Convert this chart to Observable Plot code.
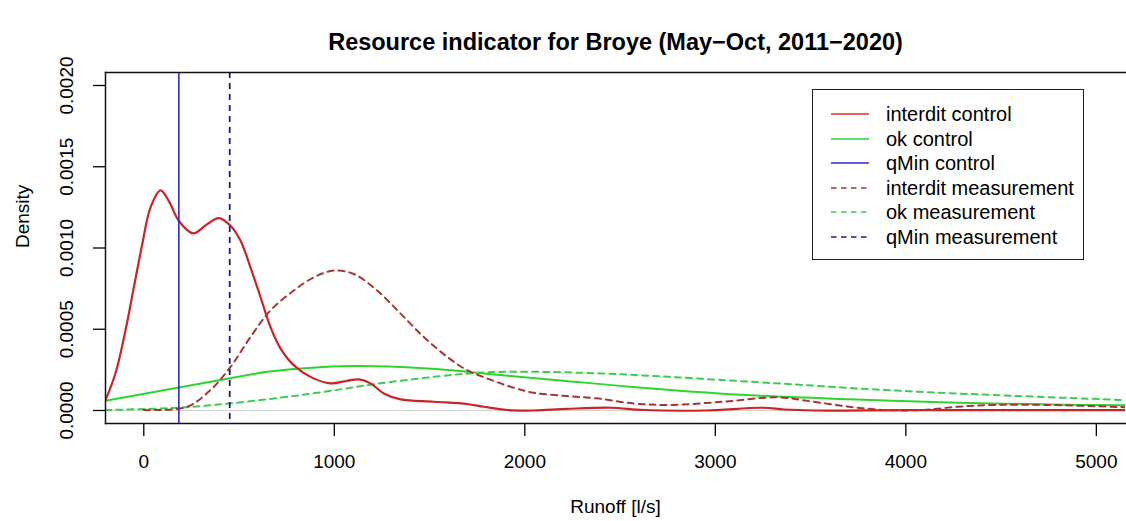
<!DOCTYPE html>
<html>
<head>
<meta charset="utf-8">
<script src="https://cdn.jsdelivr.net/npm/d3@7"></script>
<script src="https://cdn.jsdelivr.net/npm/@observablehq/plot@0.6"></script>
<style>
  html, body { margin: 0; padding: 0; background: #fff; }
  #wrap { position: relative; width: 1126px; height: 521px; overflow: hidden;
          font-family: "Liberation Sans", Arial, Helvetica, sans-serif; color: #000; }
  #legend { position: absolute; left: 812px; top: 89px; width: 272px; height: 171px;
            box-sizing: border-box; border: 1.5px solid #222; background: #fff; }
  .lrow { position: absolute; left: 0; height: 24px; width: 100%; }
  .lrow svg { position: absolute; left: 17px; top: 0; }
  .lrow span { position: absolute; left: 73px; top: 0; line-height: 24px; font-size: 20px; white-space: nowrap; }
</style>
</head>
<body>
<div id="wrap"></div>
<script>
// ---- data ----
const titleText = "Resource indicator for Broye (May\u2212Oct, 2011\u22122020)";
const xLabel = "Runoff [l/s]";
const yLabel = "Density";
const xTicks = [0, 1000, 2000, 3000, 4000, 5000];
const yTicks = [0, 0.0005, 0.001, 0.0015, 0.002];

const interditControlX = [-201, -149, -96, -52, -8, 35, 88, 131, 184, 259, 333, 394, 455, 508, 560, 613, 665, 718, 787, 875, 980, 1068, 1129, 1190, 1260, 1348, 1522, 1697, 1785, 1907, 2047, 2222, 2452, 2623, 2945, 3248, 3362, 3514, 4000, 4600, 5158];
const interditControlY = [0.000064, 0.000228, 0.000493, 0.000759, 0.001024, 0.001249, 0.001355, 0.00129, 0.001167, 0.00109, 0.001147, 0.001184, 0.001137, 0.001045, 0.000881, 0.000697, 0.000513, 0.000381, 0.000279, 0.000207, 0.000167, 0.000183, 0.000191, 0.000167, 0.000105, 0.0000686, 0.000054, 0.00004, 0.000023, 0.000003, 0.0, 0.00001, 0.000017, 0.000003, 0.0, 0.000017, 0.000006, 0.0, 0.000002, 0.000002, 0.000002];

const okControlX = [-201, 184, 446, 648, 823, 1033, 1348, 1610, 1872, 2187, 2565, 3135, 3703, 4272, 4838, 5158];
const okControlY = [0.00006, 0.000142, 0.000197, 0.000238, 0.000259, 0.000273, 0.000268, 0.000248, 0.000218, 0.000185, 0.000145, 0.000097, 0.000069, 0.000048, 0.000036, 0.000032];

const interditMeasX = [0, 70, 228, 350, 455, 560, 665, 787, 893, 997, 1102, 1225, 1348, 1470, 1593, 1697, 1803, 1925, 2047, 2222, 2377, 2565, 2754, 3040, 3324, 3514, 3703, 3893, 4083, 4272, 4462, 4745, 5158];
const interditMeasY = [0.000003, 0.000003, 0.000023, 0.000126, 0.000268, 0.000452, 0.000616, 0.000738, 0.00082, 0.000861, 0.00084, 0.000738, 0.000596, 0.000452, 0.00033, 0.000248, 0.000197, 0.000146, 0.000109, 0.000089, 0.000075, 0.000044, 0.000034, 0.000054, 0.000081, 0.000054, 0.000023, 0.000003, 0.000003, 0.000023, 0.000034, 0.000034, 0.00002];

const okMeasX = [-201, 184, 455, 823, 1033, 1173, 1522, 1785, 2047, 2397, 2754, 3324, 3893, 4462, 5158];
const okMeasY = [0.000003, 0.000017, 0.000044, 0.000095, 0.00013, 0.000156, 0.000207, 0.000234, 0.000238, 0.000228, 0.000207, 0.000167, 0.000126, 0.000095, 0.000064];

const qMinControl = [184];
const qMinMeasurement = [451];

const legendLabels = ["interdit control", "ok control", "qMin control", "interdit measurement", "ok measurement", "qMin measurement"];

// ---- styles ----
const colRed = "#cc2424", colBrown = "#a83434", colGreen = "#2ed42e", colGreen2 = "#3ccc50", colBlue = "#2a2ac8", colNavy = "#1c1c78";
const legendColors = ["#e02a2a", colGreen, colBlue, colBrown, colGreen2, colNavy];
const legendDashed = [false, false, false, true, true, true];
const dash = "6,5";

const toRows = (xs, ys) => xs.map((x, i) => ({x, y: ys[i]}));
const fmtY = d3.format(".4f");

const chart = Plot.plot({
  width: 1126, height: 521,
  marginLeft: 105, marginRight: 1, marginTop: 72, marginBottom: 98,
  style: {fontFamily: '"Liberation Sans", Arial, Helvetica, sans-serif', fontSize: "19px", color: "#000", background: "#fff", overflow: "visible"},
  x: {domain: [-201, 5153]},
  y: {domain: [-0.00008, 0.00208]},
  marks: [
    Plot.ruleY([0], {stroke: "#d0d0d0", strokeWidth: 1}),
    Plot.line(toRows(okMeasX, okMeasY), {x: "x", y: "y", stroke: colGreen2, strokeWidth: 2, strokeDasharray: dash, curve: "catmull-rom", clip: true}),
    Plot.line(toRows(okControlX, okControlY), {x: "x", y: "y", stroke: colGreen, strokeWidth: 2, curve: "catmull-rom", clip: true}),
    Plot.line(toRows(interditMeasX, interditMeasY), {x: "x", y: "y", stroke: colBrown, strokeWidth: 2, strokeDasharray: dash, curve: "catmull-rom", clip: true}),
    Plot.line(toRows(interditControlX, interditControlY), {x: "x", y: "y", stroke: colRed, strokeWidth: 2.2, curve: "catmull-rom", clip: true}),
    Plot.ruleX(qMinControl, {stroke: colBlue, strokeWidth: 1.6}),
    Plot.ruleX(qMinMeasurement, {stroke: colNavy, strokeWidth: 1.8, strokeDasharray: dash}),
    Plot.frame({anchor: "left", stroke: "#111", strokeWidth: 1.5}),
    Plot.frame({anchor: "top", stroke: "#111", strokeWidth: 1.5}),
    Plot.frame({anchor: "bottom", stroke: "#111", strokeWidth: 1.5}),
    Plot.axisX({ticks: xTicks, tickSize: 13, tickPadding: 18, tickFormat: d => String(d), label: null, fontSize: 19, strokeWidth: 1.3}),
    Plot.axisY({ticks: yTicks, tickSize: 12, tickPadding: 27, tickRotate: -90, textAnchor: "middle", lineAnchor: "middle", tickFormat: fmtY, label: null, fontSize: 19, strokeWidth: 1.3}),
    Plot.text([yLabel], {frameAnchor: "left", dx: -83, rotate: -90, fontSize: 19}),
    Plot.text([xLabel], {frameAnchor: "bottom", dy: 89, fontSize: 19}),
    Plot.text([titleText], {frameAnchor: "top", dy: -39, fontSize: 23.5, fontWeight: "bold"})
  ]
});

const wrap = document.getElementById("wrap");
wrap.appendChild(chart);

// legend inside the plot area
const leg = document.createElement("div");
leg.id = "legend";
legendLabels.forEach((lab, i) => {
  const row = document.createElement("div");
  row.className = "lrow";
  row.style.top = (12 + 24.5 * i) + "px";
  const ns = "http://www.w3.org/2000/svg";
  const s = document.createElementNS(ns, "svg");
  s.setAttribute("width", "42"); s.setAttribute("height", "24");
  const l = document.createElementNS(ns, "line");
  l.setAttribute("x1", "1"); l.setAttribute("x2", "39");
  l.setAttribute("y1", "12"); l.setAttribute("y2", "12");
  l.setAttribute("stroke", legendColors[i]);
  l.setAttribute("stroke-width", "1.6");
  if (legendDashed[i]) l.setAttribute("stroke-dasharray", "5.5,4.5");
  s.appendChild(l);
  const t = document.createElement("span");
  t.textContent = lab;
  row.appendChild(s); row.appendChild(t);
  leg.appendChild(row);
});
wrap.appendChild(leg);
</script>
</body>
</html>
